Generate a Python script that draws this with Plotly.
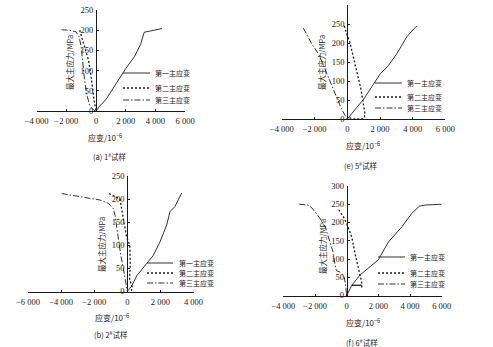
import plotly.graph_objects as go

W, H = 493, 347

# ---------------- data ----------------
# (a) 1# specimen
a1_x = [0, 200, 700, 1400, 2000, 2600, 3000, 3250, 4450]
a1_y = [0, 10, 30, 70, 105, 135, 165, 195, 204]
a2_x = [-1100, -950, -700, -500, -350, -220, -120, 0]
a2_y = [200, 180, 150, 125, 90, 50, 25, 0]
a3_x = [-2320, -1800, -1350, -1150, -1000, -900, -780, -620, -400, -150, 0]
a3_y = [201, 200, 196, 185, 160, 120, 80, 40, 12, 2, 0]

# (e) 5# specimen
e1_x = [0, 500, 1000, 1500, 2000, 2500, 3000, 3350, 3650, 4250]
e1_y = [0, 25, 52, 85, 118, 140, 170, 195, 217, 245]
e2_x = [-180, -50, 150, 400, 600, 800, 950, 1070, 1050, 900, 400, 150, 0]
e2_y = [245, 225, 203, 160, 125, 85, 50, 15, 3, 0, 0, 2, 5]
e3_x = [-2690, -2200, -1720, -1250, -1060, -650, -340, -140, 0]
e3_y = [239, 200, 168, 120, 103, 59, 25, 10, 0]

# (b) 2# specimen
b1_x = [0, 265, 570, 1170, 1570, 1970, 2380, 2580, 2880, 3280]
b1_y = [0, 12, 34, 60, 78, 107, 144, 173, 184, 213]
b2_x = [-1100, -700, -440, -250, -40, 150, 180, 140, 300, 250, 100]
b2_y = [212, 205, 200, 160, 118, 100, 60, 25, 10, 2, 0]
b3_x = [-3960, -2800, -1650, -1150, -850, -740, -640, -540, -400, -240, -100, 0]
b3_y = [212, 205, 198, 191, 180, 165, 140, 110, 80, 50, 20, 0]

# (f) 6# specimen
f1_x = [0, 320, 950, 320, 840, 2000, 2640, 3480, 4110, 4600, 5000, 6000]
f1_y = [0, 28, 28, 28, 56, 98, 147, 188, 225, 245, 248, 250]
f2_x = [-500, -200, 0, 320, 525, 740, 840, 950, 950]
f2_y = [235, 215, 197, 160, 115, 69, 56, 35, 22]
f3_x = [-3000, -2450, -2200, -1700, -1370, -1060, -870, -740, -650, -420, -150, -50, 0]
f3_y = [250, 248, 240, 212, 190, 150, 120, 85, 68, 64, 50, 20, 0]

series_names = ["第一主应变", "第二主应变", "第三主应变"]
captions = ["(a) 1<sup>#</sup>试样", "(e) 5<sup>#</sup>试样",
            "(b) 2<sup>#</sup>试样", "(f) 6<sup>#</sup>试样"]
x_title = "应变/10<sup>−6</sup>"
y_title = "最大主应力/MPa"

xt_a = [-4000, -2000, 0, 2000, 4000, 6000]
xt_a_txt = ["−4 000", "−2 000", "0", "2 000", "4 000", "6 000"]
xt_b = [-6000, -4000, -2000, 0, 2000, 4000]
xt_b_txt = ["−6 000", "−4 000", "−2 000", "0", "2 000", "4 000"]
yt_250 = [0, 50, 100, 150, 200, 250]
yt_300 = [0, 50, 100, 150, 200, 250, 300]

# ---------------- layout geometry (pixels) ----------------
panels = [
    dict(data=[(a1_x, a1_y), (a2_x, a2_y), (a3_x, a3_y)],
         xr=[-4000, 6000], px0=36.6, px1=185.1, yr=[0, 250], py0=111, py1=10,
         xt=xt_a, xtt=xt_a_txt, yt=yt_250, zero=96,
         xtitle=(105, 137), cap=(110, 157), ytitle=(70, 63),
         leg=(123, 150, 153, [73, 88, 100])),
    dict(data=[(e1_x, e1_y), (e2_x, e2_y), (e3_x, e3_y)],
         xr=[-4000, 6000], px0=281.9, px1=445.4, yr=[0, 300], py0=119, py1=5,
         xt=xt_a, xtt=xt_a_txt, yt=yt_300, zero=347.3,
         xtitle=(363, 145), cap=(361, 165), ytitle=(322, 63),
         leg=(375, 402, 405, [83, 97, 108])),
    dict(data=[(b1_x, b1_y), (b2_x, b2_y), (b3_x, b3_y)],
         xr=[-6000, 4000], px0=28, px1=193.5, yr=[0, 250], py0=291.5, py1=176,
         xt=xt_b, xtt=xt_b_txt, yt=yt_250, zero=127.3,
         xtitle=(112, 317), cap=(111, 334), ytitle=(102, 245),
         leg=(147, 173, 177, [263, 273, 283])),
    dict(data=[(f1_x, f1_y), (f2_x, f2_y), (f3_x, f3_y)],
         xr=[-4000, 6000], px0=283.4, px1=441.7, yr=[0, 300], py0=295.5, py1=186,
         xt=xt_a, xtt=xt_a_txt, yt=yt_300, zero=346.7,
         xtitle=(363, 322), cap=(362, 342), ytitle=(322, 247),
         leg=(378, 405, 408, [257, 273, 284])),
]

styles = [dict(dash="solid", width=0.9), dict(dash="2px,2px", width=1.3),
          dict(dash="6px,2px,1.5px,2px", width=0.9)]
INK = "#1a1a1a"
TICKFONT = dict(family="Liberation Serif", size=8.5, color=INK)
CJK = "Noto Sans CJK SC"


def fx(px):
    return px / W


def fy(py):
    return 1 - py / H


def note(x, y, text, size, xanchor="center", angle=0):
    return dict(x=fx(x), y=fy(y), xref="paper", yref="paper", text=text,
                showarrow=False, xanchor=xanchor, yanchor="middle", textangle=angle,
                font=dict(family=CJK, size=size, color=INK))


fig = go.Figure()
shapes = []
annotations = []

for i, p in enumerate(panels):
    n = "" if i == 0 else str(i + 1)
    xa, ya = "x" + n, "y" + n
    for (xs, ys), st in zip(p["data"], styles):
        fig.add_trace(go.Scatter(x=xs, y=ys, mode="lines", xaxis=xa, yaxis=ya,
                                 line=dict(color=INK, width=st["width"], dash=st["dash"]),
                                 showlegend=False, hoverinfo="skip"))
    fig.layout["xaxis" + n] = dict(
        domain=[fx(p["px0"]), fx(p["px1"])], range=p["xr"], anchor=ya,
        automargin=False,
        showgrid=False, zeroline=False, showline=True, linecolor=INK, linewidth=1,
        ticks="inside", ticklen=2, tickcolor=INK,
        tickvals=p["xt"], ticktext=p["xtt"], tickfont=TICKFONT, ticklabelstandoff=2)
    fig.layout["yaxis" + n] = dict(
        domain=[fy(p["py0"]), fy(p["py1"])], range=p["yr"], anchor="free",
        automargin=False,
        position=fx(p["zero"]), showgrid=False, zeroline=False, showline=True,
        linecolor=INK, linewidth=1, ticks="inside", ticklen=2, tickcolor=INK,
        tickvals=p["yt"], tickfont=TICKFONT, ticklabelstandoff=1)
    annotations.append(note(*p["xtitle"], x_title, 8))
    annotations.append(note(*p["cap"], captions[i], 7.5))
    annotations.append(note(*p["ytitle"], y_title, 7.5, angle=-90))
    # legend key
    lx0, lx1, tx, rows = p["leg"]
    for name, st, ry in zip(series_names, styles, rows):
        shapes.append(dict(type="line", xref="paper", yref="paper",
                           x0=fx(lx0), x1=fx(lx1), y0=fy(ry), y1=fy(ry),
                           line=dict(color=INK, width=st["width"], dash=st["dash"])))
        annotations.append(note(tx, ry, name, 7, xanchor="left"))

fig.update_layout(width=W, height=H, autosize=False,
                  margin=dict(l=0, r=0, t=0, b=0, autoexpand=False),
                  paper_bgcolor="white", plot_bgcolor="white",
                  shapes=shapes, annotations=annotations, showlegend=False)

fig.write_html("out.html")
